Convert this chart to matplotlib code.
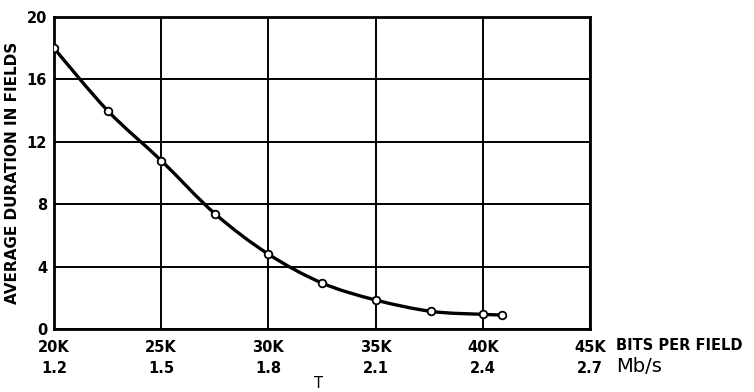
import matplotlib.pyplot as plt
from matplotlib.path import Path
from matplotlib.patches import PathPatch

# datos
bits_k = [20, 22.5, 25, 27.5, 30, 32.5, 35, 37.6, 40, 40.9]
duracion = [18, 14, 10.8, 7.4, 4.8, 2.95, 1.86, 1.13, 0.94, 0.9]

x_ticks = [20, 25, 30, 35, 40, 45]
tasa_mbs = ['1.2', '1.5', '1.8', '2.1', '2.4', '2.7']
y_ticks = [0, 4, 8, 12, 16, 20]

plt.rcParams['font.family'] = ['DejaVu Sans']

fig = plt.figure(figsize=(7.54, 3.92), dpi=100)
ax = fig.add_axes([0.0716, 0.1607, 0.7109, 0.7959])

# curva suave (Catmull-Rom -> Bezier cubica) por los puntos medidos
pts = list(zip(bits_k, duracion))
verts = [pts[0]]
codes = [Path.MOVETO]
for i in range(len(pts) - 1):
    p0 = pts[i - 1] if i > 0 else pts[i]
    p1 = pts[i]
    p2 = pts[i + 1]
    p3 = pts[i + 2] if i + 2 < len(pts) else pts[i + 1]
    c1 = (p1[0] + (p2[0] - p0[0]) / 6, p1[1] + (p2[1] - p0[1]) / 6)
    c2 = (p2[0] - (p3[0] - p1[0]) / 6, p2[1] - (p3[1] - p1[1]) / 6)
    verts += [c1, c2, p2]
    codes += [Path.CURVE4] * 3
ax.add_patch(PathPatch(Path(verts, codes), facecolor='none',
                       edgecolor='black', lw=2.4, zorder=3))

ax.plot(bits_k, duracion, linestyle='none', zorder=4,
        marker='o', markersize=5.5, markerfacecolor='white',
        markeredgecolor='black', markeredgewidth=1.3)

ax.set_xlim(20, 45)
ax.set_ylim(0, 20)
ax.set_xticks(x_ticks)
ax.set_xticklabels([f'{k}K\n{r}' for k, r in zip(x_ticks, tasa_mbs)],
                   fontsize=10.5, fontweight='bold', linespacing=1.45)
ax.set_yticks(y_ticks)
ax.set_yticklabels([str(v) for v in y_ticks], fontsize=10.5, fontweight='bold')
ax.tick_params(axis='x', length=0, pad=8)
ax.tick_params(axis='y', length=0, pad=5)
for lbl in ax.get_yticklabels():
    lbl.set_verticalalignment('center_baseline')
ax.grid(True, color='black', lw=1.4)
for s in ax.spines.values():
    s.set_linewidth(2)

ax.set_ylabel('AVERAGE DURATION IN FIELDS', fontsize=11, fontweight='bold',
              labelpad=5)

fig.text(616 / 754, 1 - 345 / 392, 'BITS PER FIELD', fontsize=10.5,
         fontweight='bold', va='center')
fig.text(616 / 754, 1 - 366 / 392, 'Mb/s', fontsize=14, va='center')
fig.text(318 / 754, 1 - 384 / 392, 'T', fontsize=10.5, va='center', ha='center')

fig.savefig('out.png', dpi=100)
